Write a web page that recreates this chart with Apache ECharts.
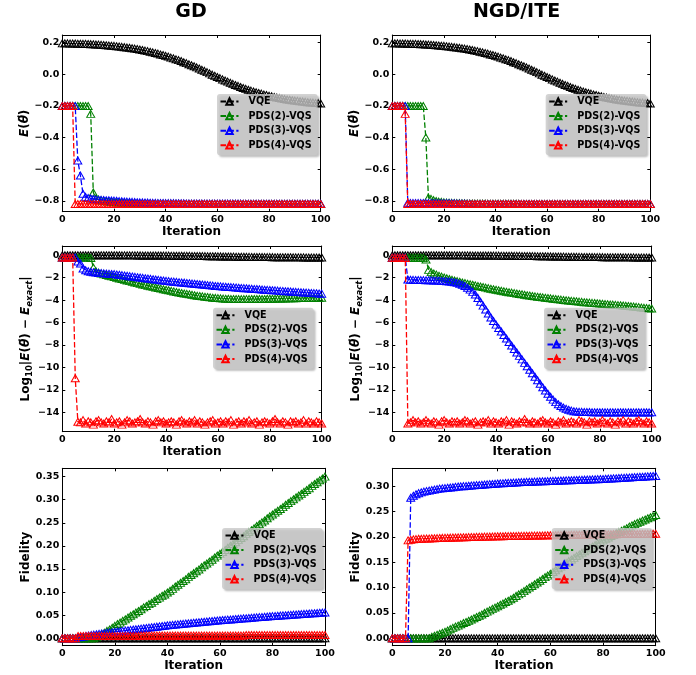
<!DOCTYPE html>
<html>
<head>
<meta charset="utf-8">
<script src="https://cdn.jsdelivr.net/npm/echarts@6/dist/echarts.min.js"></script>
<style>
html,body{margin:0;padding:0;background:#fff;}
#chart{width:696px;height:675px;}
</style>
</head>
<body>
<div id="chart"></div>
<script>
// ---- series names, colours, tick labels ----
const seriesNames = ['VQE', 'PDS(2)-VQS', 'PDS(3)-VQS', 'PDS(4)-VQS'];
const seriesColors = ['#000000', '#008000', '#0000ff', '#ff0000'];
const panelTitles = ['GD', 'NGD/ITE'];
const iterationTicks = [0, 20, 40, 60, 80, 100];
const energyTicks = [-0.8, -0.6, -0.4, -0.2, 0.0, 0.2];
const logErrorTicks = [-14, -12, -10, -8, -6, -4, -2, 0];
const fidelityTicksGD = [0, 0.05, 0.10, 0.15, 0.20, 0.25, 0.30, 0.35];
const fidelityTicksNGD = [0, 0.05, 0.10, 0.15, 0.20, 0.25, 0.30];

// ---- energy E(theta) per iteration (0..100) ----
const vqeEnergy = [
  0.196,0.196,0.196,0.195,0.195,0.195,0.194,0.194,0.193,0.193,
  0.192,0.191,0.190,0.189,0.188,0.187,0.186,0.184,0.183,0.181,
  0.180,0.178,0.176,0.174,0.172,0.170,0.168,0.165,0.163,0.160,
  0.157,0.154,0.150,0.147,0.143,0.139,0.135,0.131,0.126,0.122,
  0.117,0.112,0.106,0.101,0.095,0.090,0.084,0.077,0.071,0.064,
  0.058,0.051,0.044,0.037,0.029,0.022,0.014,0.006,-0.002,-0.009,
  -0.017,-0.024,-0.032,-0.039,-0.046,-0.053,-0.060,-0.067,-0.073,-0.080,
  -0.086,-0.092,-0.097,-0.103,-0.108,-0.113,-0.118,-0.122,-0.127,-0.131,
  -0.135,-0.139,-0.143,-0.146,-0.150,-0.153,-0.156,-0.159,-0.161,-0.164,
  -0.166,-0.168,-0.170,-0.172,-0.174,-0.176,-0.178,-0.179,-0.181,-0.182,
  -0.184];
const gdEnergy2 = [
  -0.2,-0.2,-0.2,-0.2,-0.2,-0.2,-0.2,-0.2,-0.2,-0.2,
  -0.2,-0.25,-0.747,-0.785,-0.792,-0.797,-0.8,-0.803,-0.805,-0.807,
  -0.809,-0.81,-0.811,-0.812,-0.813,-0.814,-0.815,-0.816,-0.816,-0.817,
  -0.817,-0.818,-0.818,-0.818,-0.818,-0.819,-0.819,-0.819,-0.819,-0.819,
  -0.819,-0.819,-0.819,-0.819,-0.819,-0.819,-0.82,-0.82,-0.82,-0.82,
  -0.82,-0.82,-0.82,-0.82,-0.82,-0.82,-0.82,-0.82,-0.82,-0.82,
  -0.82,-0.82,-0.82,-0.82,-0.82,-0.82,-0.82,-0.82,-0.82,-0.82,
  -0.82,-0.82,-0.82,-0.82,-0.82,-0.82,-0.82,-0.82,-0.82,-0.82,
  -0.82,-0.82,-0.82,-0.82,-0.82,-0.82,-0.82,-0.82,-0.82,-0.82,
  -0.82,-0.82,-0.82,-0.82,-0.82,-0.82,-0.82,-0.82,-0.82,-0.82,
  -0.82];
const gdEnergy3 = [
  -0.2,-0.2,-0.2,-0.2,-0.2,-0.2,-0.545,-0.64,-0.755,-0.775,
  -0.782,-0.786,-0.789,-0.791,-0.793,-0.794,-0.795,-0.797,-0.797,-0.798,
  -0.799,-0.8,-0.802,-0.803,-0.804,-0.805,-0.806,-0.807,-0.808,-0.809,
  -0.81,-0.81,-0.811,-0.811,-0.812,-0.813,-0.813,-0.814,-0.814,-0.814,
  -0.815,-0.815,-0.815,-0.815,-0.816,-0.816,-0.816,-0.816,-0.817,-0.817,
  -0.817,-0.817,-0.817,-0.817,-0.817,-0.818,-0.818,-0.818,-0.818,-0.818,
  -0.818,-0.818,-0.818,-0.818,-0.818,-0.818,-0.818,-0.818,-0.818,-0.818,
  -0.819,-0.819,-0.819,-0.819,-0.819,-0.819,-0.819,-0.819,-0.819,-0.819,
  -0.819,-0.819,-0.819,-0.819,-0.819,-0.819,-0.819,-0.819,-0.819,-0.819,
  -0.819,-0.819,-0.819,-0.819,-0.819,-0.819,-0.819,-0.819,-0.819,-0.819,
  -0.819];
const gdEnergy4 = [
  -0.2,-0.2,-0.2,-0.2,-0.2,-0.82,-0.82,-0.82,-0.82,-0.82,
  -0.82,-0.82,-0.82,-0.82,-0.82,-0.82,-0.82,-0.82,-0.82,-0.82,
  -0.82,-0.82,-0.82,-0.82,-0.82,-0.82,-0.82,-0.82,-0.82,-0.82,
  -0.82,-0.82,-0.82,-0.82,-0.82,-0.82,-0.82,-0.82,-0.82,-0.82,
  -0.82,-0.82,-0.82,-0.82,-0.82,-0.82,-0.82,-0.82,-0.82,-0.82,
  -0.82,-0.82,-0.82,-0.82,-0.82,-0.82,-0.82,-0.82,-0.82,-0.82,
  -0.82,-0.82,-0.82,-0.82,-0.82,-0.82,-0.82,-0.82,-0.82,-0.82,
  -0.82,-0.82,-0.82,-0.82,-0.82,-0.82,-0.82,-0.82,-0.82,-0.82,
  -0.82,-0.82,-0.82,-0.82,-0.82,-0.82,-0.82,-0.82,-0.82,-0.82,
  -0.82,-0.82,-0.82,-0.82,-0.82,-0.82,-0.82,-0.82,-0.82,-0.82,
  -0.82];
const ngdEnergy2 = [
  -0.2,-0.2,-0.2,-0.2,-0.2,-0.2,-0.2,-0.2,-0.2,-0.2,
  -0.2,-0.2,-0.2,-0.4,-0.78,-0.788,-0.796,-0.801,-0.805,-0.807,
  -0.81,-0.811,-0.812,-0.813,-0.814,-0.815,-0.815,-0.816,-0.816,-0.817,
  -0.817,-0.817,-0.818,-0.818,-0.818,-0.818,-0.818,-0.819,-0.819,-0.819,
  -0.819,-0.819,-0.819,-0.819,-0.819,-0.819,-0.819,-0.819,-0.819,-0.819,
  -0.82,-0.82,-0.82,-0.82,-0.82,-0.82,-0.82,-0.82,-0.82,-0.82,
  -0.82,-0.82,-0.82,-0.82,-0.82,-0.82,-0.82,-0.82,-0.82,-0.82,
  -0.82,-0.82,-0.82,-0.82,-0.82,-0.82,-0.82,-0.82,-0.82,-0.82,
  -0.82,-0.82,-0.82,-0.82,-0.82,-0.82,-0.82,-0.82,-0.82,-0.82,
  -0.82,-0.82,-0.82,-0.82,-0.82,-0.82,-0.82,-0.82,-0.82,-0.82,
  -0.82];
const ngdEnergy3 = [
  -0.2,-0.2,-0.2,-0.2,-0.2,-0.2,-0.813,-0.814,-0.814,-0.814,
  -0.814,-0.814,-0.814,-0.814,-0.814,-0.814,-0.814,-0.814,-0.815,-0.815,
  -0.815,-0.815,-0.815,-0.816,-0.816,-0.817,-0.817,-0.818,-0.818,-0.819,
  -0.819,-0.82,-0.82,-0.82,-0.82,-0.82,-0.82,-0.82,-0.82,-0.82,
  -0.82,-0.82,-0.82,-0.82,-0.82,-0.82,-0.82,-0.82,-0.82,-0.82,
  -0.82,-0.82,-0.82,-0.82,-0.82,-0.82,-0.82,-0.82,-0.82,-0.82,
  -0.82,-0.82,-0.82,-0.82,-0.82,-0.82,-0.82,-0.82,-0.82,-0.82,
  -0.82,-0.82,-0.82,-0.82,-0.82,-0.82,-0.82,-0.82,-0.82,-0.82,
  -0.82,-0.82,-0.82,-0.82,-0.82,-0.82,-0.82,-0.82,-0.82,-0.82,
  -0.82,-0.82,-0.82,-0.82,-0.82,-0.82,-0.82,-0.82,-0.82,-0.82,
  -0.82];
const ngdEnergy4 = [
  -0.2,-0.2,-0.2,-0.2,-0.2,-0.25,-0.82,-0.82,-0.82,-0.82,
  -0.82,-0.82,-0.82,-0.82,-0.82,-0.82,-0.82,-0.82,-0.82,-0.82,
  -0.82,-0.82,-0.82,-0.82,-0.82,-0.82,-0.82,-0.82,-0.82,-0.82,
  -0.82,-0.82,-0.82,-0.82,-0.82,-0.82,-0.82,-0.82,-0.82,-0.82,
  -0.82,-0.82,-0.82,-0.82,-0.82,-0.82,-0.82,-0.82,-0.82,-0.82,
  -0.82,-0.82,-0.82,-0.82,-0.82,-0.82,-0.82,-0.82,-0.82,-0.82,
  -0.82,-0.82,-0.82,-0.82,-0.82,-0.82,-0.82,-0.82,-0.82,-0.82,
  -0.82,-0.82,-0.82,-0.82,-0.82,-0.82,-0.82,-0.82,-0.82,-0.82,
  -0.82,-0.82,-0.82,-0.82,-0.82,-0.82,-0.82,-0.82,-0.82,-0.82,
  -0.82,-0.82,-0.82,-0.82,-0.82,-0.82,-0.82,-0.82,-0.82,-0.82,
  -0.82];

// ---- log10 |E(theta) - E_exact| per iteration ----
const vqeLogError = [
  0.007,0.007,0.007,0.006,0.006,0.006,0.006,0.006,0.005,0.005,
  0.005,0.004,0.004,0.003,0.003,0.003,0.002,0.002,0.001,0.000,
  0.000,-0.001,-0.002,-0.003,-0.003,-0.004,-0.005,-0.006,-0.007,-0.009,
  -0.010,-0.012,-0.013,-0.015,-0.017,-0.018,-0.020,-0.022,-0.024,-0.026,
  -0.028,-0.031,-0.033,-0.036,-0.039,-0.041,-0.044,-0.047,-0.050,-0.053,
  -0.057,-0.060,-0.064,-0.067,-0.071,-0.075,-0.079,-0.083,-0.087,-0.091,
  -0.095,-0.099,-0.103,-0.107,-0.111,-0.115,-0.119,-0.123,-0.127,-0.130,
  -0.134,-0.137,-0.141,-0.144,-0.147,-0.150,-0.153,-0.156,-0.159,-0.161,
  -0.164,-0.166,-0.169,-0.171,-0.173,-0.175,-0.177,-0.179,-0.180,-0.182,
  -0.184,-0.185,-0.187,-0.188,-0.189,-0.190,-0.192,-0.193,-0.194,-0.195,
  -0.197];
const gdLogError2 = [
  -0.2,-0.2,-0.2,-0.2,-0.2,-0.2,-0.2,-0.2,-0.2,-0.2,
  -0.2,-0.24,-1.1,-1.45,-1.55,-1.63,-1.7,-1.76,-1.82,-1.88,
  -1.94,-2.0,-2.06,-2.12,-2.18,-2.24,-2.3,-2.36,-2.42,-2.48,
  -2.54,-2.6,-2.66,-2.71,-2.76,-2.81,-2.87,-2.92,-2.97,-3.02,
  -3.07,-3.12,-3.17,-3.22,-3.27,-3.32,-3.36,-3.4,-3.44,-3.48,
  -3.52,-3.56,-3.6,-3.63,-3.66,-3.69,-3.72,-3.75,-3.78,-3.8,
  -3.82,-3.84,-3.86,-3.87,-3.88,-3.89,-3.9,-3.9,-3.91,-3.91,
  -3.91,-3.91,-3.91,-3.9,-3.9,-3.9,-3.9,-3.89,-3.89,-3.88,
  -3.88,-3.87,-3.87,-3.86,-3.86,-3.85,-3.85,-3.84,-3.84,-3.83,
  -3.83,-3.82,-3.82,-3.81,-3.81,-3.8,-3.8,-3.79,-3.79,-3.78,
  -3.78];
const gdLogError3 = [
  -0.2,-0.2,-0.2,-0.2,-0.2,-0.2,-0.55,-0.73,-1.17,-1.34,
  -1.42,-1.47,-1.51,-1.54,-1.57,-1.59,-1.61,-1.63,-1.64,-1.66,
  -1.68,-1.71,-1.74,-1.77,-1.8,-1.83,-1.86,-1.89,-1.92,-1.95,
  -1.98,-2.01,-2.04,-2.07,-2.1,-2.13,-2.16,-2.19,-2.22,-2.25,
  -2.28,-2.3,-2.33,-2.35,-2.37,-2.4,-2.42,-2.44,-2.47,-2.49,
  -2.51,-2.54,-2.56,-2.58,-2.61,-2.63,-2.66,-2.68,-2.7,-2.73,
  -2.75,-2.77,-2.79,-2.8,-2.82,-2.84,-2.86,-2.87,-2.89,-2.91,
  -2.93,-2.94,-2.96,-2.98,-3.0,-3.01,-3.03,-3.05,-3.07,-3.08,
  -3.1,-3.12,-3.13,-3.15,-3.17,-3.18,-3.2,-3.21,-3.23,-3.25,
  -3.26,-3.28,-3.29,-3.31,-3.33,-3.34,-3.36,-3.37,-3.39,-3.41,
  -3.42];
const gdLogError4 = [
  -0.2,-0.2,-0.2,-0.2,-0.2,-10.97,-14.84,-14.9,-14.7,-15.0,
  -14.8,-14.9,-15.1,-14.8,-14.7,-14.9,-15.0,-14.8,-14.9,-14.6,
  -15.0,-14.9,-14.8,-15.1,-14.9,-14.7,-14.8,-15.0,-14.9,-14.8,
  -14.6,-14.9,-15.0,-14.8,-14.9,-15.1,-14.8,-14.7,-14.9,-14.8,
  -15.0,-14.9,-14.8,-14.9,-15.1,-14.8,-14.7,-14.9,-15.0,-14.8,
  -14.9,-14.7,-15.0,-14.8,-14.9,-15.1,-14.9,-14.8,-14.7,-15.0,
  -14.9,-14.8,-15.0,-14.8,-14.9,-14.7,-15.1,-14.9,-14.8,-15.0,
  -14.8,-14.9,-14.7,-15.0,-14.9,-14.8,-15.1,-14.9,-14.8,-14.9,
  -15.0,-14.8,-14.6,-14.9,-15.0,-14.8,-14.9,-15.1,-14.8,-14.9,
  -14.8,-15.0,-14.9,-14.7,-15.0,-14.8,-14.9,-15.0,-14.8,-14.9,
  -15.0];
const ngdLogError2 = [
  -0.21,-0.21,-0.21,-0.21,-0.21,-0.21,-0.21,-0.21,-0.21,-0.21,
  -0.21,-0.21,-0.21,-0.37,-1.3,-1.5,-1.62,-1.72,-1.82,-1.9,
  -1.98,-2.05,-2.12,-2.18,-2.24,-2.3,-2.36,-2.42,-2.47,-2.53,
  -2.58,-2.63,-2.68,-2.73,-2.78,-2.83,-2.88,-2.93,-2.98,-3.02,
  -3.07,-3.11,-3.16,-3.2,-3.25,-3.29,-3.33,-3.37,-3.41,-3.45,
  -3.48,-3.52,-3.56,-3.59,-3.63,-3.66,-3.69,-3.72,-3.75,-3.78,
  -3.81,-3.84,-3.87,-3.9,-3.93,-3.95,-3.98,-4.01,-4.03,-4.06,
  -4.08,-4.1,-4.13,-4.15,-4.18,-4.2,-4.22,-4.24,-4.26,-4.28,
  -4.3,-4.32,-4.34,-4.36,-4.38,-4.4,-4.42,-4.44,-4.46,-4.48,
  -4.5,-4.52,-4.55,-4.57,-4.6,-4.62,-4.65,-4.67,-4.7,-4.72,
  -4.75];
const ngdLogError3 = [
  -0.21,-0.21,-0.21,-0.21,-0.21,-0.21,-2.15,-2.18,-2.19,-2.2,
  -2.2,-2.21,-2.21,-2.22,-2.22,-2.23,-2.24,-2.25,-2.26,-2.28,
  -2.3,-2.32,-2.34,-2.37,-2.41,-2.46,-2.53,-2.62,-2.74,-2.89,
  -3.06,-3.26,-3.49,-3.8,-4.14,-4.49,-4.84,-5.19,-5.54,-5.86,
  -6.18,-6.49,-6.8,-7.11,-7.42,-7.73,-8.04,-8.35,-8.66,-8.97,
  -9.28,-9.59,-9.9,-10.21,-10.52,-10.83,-11.14,-11.45,-11.76,-12.06,
  -12.35,-12.62,-12.87,-13.09,-13.28,-13.44,-13.58,-13.69,-13.78,-13.85,
  -13.9,-13.93,-13.95,-13.96,-13.97,-13.98,-13.98,-13.99,-13.99,-14.0,
  -14.0,-13.99,-14.0,-14.01,-14.0,-14.0,-14.01,-14.0,-13.99,-14.0,
  -14.01,-14.0,-14.0,-14.01,-14.0,-14.0,-14.01,-14.0,-14.0,-14.01,
  -14.0];
const ngdLogError4 = [
  -0.21,-0.21,-0.21,-0.21,-0.21,-0.24,-15.0,-14.9,-14.7,-14.9,
  -14.8,-15.0,-14.9,-14.7,-14.9,-15.0,-14.8,-14.9,-15.1,-14.8,
  -14.7,-14.9,-15.0,-14.8,-14.9,-14.8,-15.0,-14.9,-14.7,-14.8,
  -15.0,-14.9,-14.8,-15.1,-14.9,-14.8,-14.9,-14.7,-15.0,-14.8,
  -14.9,-15.0,-14.8,-14.9,-14.7,-15.1,-14.8,-14.9,-15.0,-14.8,
  -14.9,-14.6,-14.9,-15.0,-14.8,-14.9,-15.0,-14.8,-14.7,-14.9,
  -15.0,-14.8,-14.9,-15.1,-14.8,-14.9,-14.7,-15.0,-14.9,-14.8,
  -14.9,-15.0,-14.7,-14.8,-14.9,-15.1,-14.8,-14.9,-14.8,-15.0,
  -14.9,-14.7,-14.9,-15.0,-14.8,-14.9,-15.1,-14.8,-14.9,-14.7,
  -15.0,-14.8,-14.9,-15.0,-14.8,-14.7,-14.9,-15.0,-14.8,-14.9,
  -15.0];

// ---- fidelity with the exact ground state per iteration ----
const vqeFidelity = [
  0,0,0,0,0,0,0,0,0,0,
  0,0,0,0,0,0,0,0,0,0,
  0,0,0,0,0,0,0,0,0,0,
  0,0,0,0,0,0,0,0,0,0,
  0,0,0,0,0,0,0,0,0,0,
  0,0,0,0,0,0,0,0,0,0,
  0,0,0,0,0,0,0,0,0,0,
  0,0,0,0,0,0,0,0,0,0,
  0,0,0,0,0,0,0,0,0,0,
  0,0,0,0,0,0,0,0,0,0,
  0];
const gdFidelity2 = [
  0,0,0,0,0,0,0,0,0,0,
  0,0,0,0.002,0.005,0.009,0.012,0.016,0.019,0.023,
  0.027,0.031,0.034,0.038,0.041,0.045,0.049,0.052,0.056,0.059,
  0.063,0.067,0.07,0.074,0.077,0.081,0.085,0.088,0.092,0.095,
  0.099,0.103,0.107,0.112,0.116,0.12,0.124,0.128,0.133,0.137,
  0.141,0.145,0.149,0.154,0.158,0.162,0.166,0.17,0.175,0.179,
  0.183,0.187,0.191,0.196,0.2,0.204,0.208,0.213,0.217,0.221,
  0.226,0.23,0.234,0.238,0.243,0.247,0.251,0.255,0.26,0.264,
  0.268,0.272,0.276,0.28,0.284,0.289,0.293,0.297,0.301,0.305,
  0.309,0.313,0.317,0.321,0.325,0.33,0.334,0.338,0.342,0.346,
  0.35];
const gdFidelity3 = [
  0,0,0,0,0,0,0.002,0.003,0.004,0.005,
  0.006,0.007,0.008,0.0088,0.0096,0.0104,0.011,0.012,0.0125,0.013,
  0.014,0.0147,0.0154,0.0161,0.0168,0.0175,0.0182,0.0189,0.0196,0.0203,
  0.021,0.0217,0.0224,0.0231,0.0238,0.0245,0.0252,0.0259,0.0266,0.0273,
  0.028,0.0286,0.0291,0.0297,0.0302,0.0308,0.0313,0.0319,0.0324,0.033,
  0.0335,0.0341,0.0346,0.0352,0.0357,0.0363,0.0368,0.0374,0.0379,0.0385,
  0.039,0.0395,0.0399,0.0404,0.0408,0.0413,0.0417,0.0422,0.0426,0.0431,
  0.0435,0.044,0.0444,0.0449,0.0453,0.0458,0.0462,0.0467,0.0471,0.0476,
  0.048,0.0484,0.0488,0.0492,0.0496,0.05,0.0504,0.0508,0.0512,0.0516,
  0.052,0.0524,0.0528,0.0532,0.0536,0.054,0.0544,0.0548,0.0552,0.0556,
  0.056];
const gdFidelity4 = [
  0,0,0,0,0,0,0.005,0.005,0.005,0.005,
  0.005,0.005,0.005,0.005,0.005,0.005,0.005,0.005,0.005,0.005,
  0.005,0.005,0.005,0.005,0.005,0.005,0.005,0.005,0.005,0.005,
  0.006,0.006,0.006,0.006,0.006,0.006,0.006,0.006,0.006,0.006,
  0.006,0.006,0.006,0.006,0.006,0.006,0.006,0.006,0.006,0.006,
  0.006,0.006,0.006,0.006,0.006,0.006,0.006,0.006,0.006,0.006,
  0.006,0.006,0.006,0.006,0.006,0.006,0.006,0.006,0.006,0.006,
  0.007,0.007,0.007,0.007,0.007,0.007,0.007,0.007,0.007,0.007,
  0.007,0.007,0.007,0.007,0.007,0.007,0.007,0.007,0.007,0.007,
  0.007,0.007,0.007,0.007,0.007,0.007,0.007,0.007,0.007,0.007,
  0.007];
const ngdFidelity2 = [
  0,0,0,0,0,0,0,0,0,0,
  0,0,0,0,0,0.003,0.005,0.007,0.009,0.011,
  0.013,0.0155,0.018,0.0205,0.023,0.025,0.0275,0.03,0.032,0.0345,
  0.037,0.0395,0.042,0.0445,0.047,0.05,0.0525,0.055,0.058,0.0605,
  0.063,0.066,0.0685,0.0715,0.074,0.077,0.08,0.0835,0.0865,0.0895,
  0.093,0.0965,0.1,0.103,0.1065,0.11,0.1135,0.117,0.1205,0.1235,
  0.127,0.1305,0.134,0.138,0.1415,0.145,0.1485,0.152,0.155,0.1585,
  0.162,0.1652,0.1684,0.1716,0.1748,0.178,0.181,0.184,0.187,0.19,
  0.193,0.196,0.1985,0.2015,0.204,0.207,0.2095,0.212,0.2145,0.217,
  0.22,0.2225,0.225,0.2275,0.2295,0.232,0.2342,0.2364,0.2386,0.2408,
  0.243];
const ngdFidelity3 = [
  0,0,0,0,0,0,0,0.277,0.281,0.284,
  0.286,0.2875,0.289,0.29,0.291,0.292,0.293,0.294,0.295,0.2955,
  0.296,0.2966,0.2972,0.2978,0.2984,0.299,0.2994,0.2998,0.3002,0.3006,
  0.301,0.3014,0.3018,0.3022,0.3026,0.303,0.3034,0.3038,0.3042,0.3046,
  0.305,0.3053,0.3056,0.3059,0.3062,0.3065,0.3068,0.3071,0.3074,0.3077,
  0.308,0.3082,0.3084,0.3086,0.3088,0.309,0.3092,0.3094,0.3096,0.3098,
  0.31,0.3102,0.3104,0.3106,0.3108,0.311,0.3112,0.3114,0.3116,0.3118,
  0.312,0.3122,0.3124,0.3126,0.3128,0.313,0.3132,0.3134,0.3136,0.3138,
  0.314,0.3143,0.3146,0.3149,0.3152,0.3155,0.3158,0.3161,0.3164,0.3167,
  0.317,0.3173,0.3176,0.3179,0.3182,0.3185,0.3188,0.3191,0.3194,0.3197,
  0.32];
const ngdFidelity4 = [
  0,0,0,0,0,0,0.193,0.194,0.195,0.1955,
  0.196,0.1962,0.1964,0.1966,0.1968,0.197,0.1972,0.1974,0.1976,0.1978,
  0.198,0.1982,0.1983,0.1985,0.1986,0.1988,0.1989,0.1991,0.1992,0.1994,
  0.1995,0.1997,0.1998,0.2,0.2001,0.2003,0.2004,0.2006,0.2007,0.2009,
  0.201,0.2011,0.2012,0.2013,0.2014,0.2015,0.2016,0.2017,0.2018,0.2019,
  0.202,0.2021,0.2022,0.2023,0.2024,0.2025,0.2026,0.2027,0.2028,0.2029,
  0.203,0.2031,0.2032,0.2033,0.2034,0.2035,0.2036,0.2037,0.2038,0.2039,
  0.204,0.2041,0.2042,0.2043,0.2044,0.2045,0.2046,0.2047,0.2048,0.2049,
  0.205,0.205,0.2051,0.2051,0.2052,0.2052,0.2053,0.2053,0.2054,0.2054,
  0.2055,0.2055,0.2056,0.2056,0.2057,0.2057,0.2058,0.2058,0.2059,0.2059,
  0.206];

// ---- layout and styling ----
const FONT = 'DejaVu Sans';
const MINUS = '\u2212';
const fmt = (digits) => (v) => {
  const s = Math.abs(v).toFixed(digits);
  return (v < -1e-9 ? MINUS : '') + s;
};

const nameRich = {
  n: { fontFamily: FONT, fontWeight: 'bold', fontSize: 12, lineHeight: 16, color: '#000' },
  i: { fontFamily: FONT, fontWeight: 'bold', fontStyle: 'italic', fontSize: 12, lineHeight: 16, color: '#000' },
  s: { fontFamily: FONT, fontWeight: 'bold', fontSize: 8.5, lineHeight: 9, verticalAlign: 'bottom', color: '#000' },
  si: { fontFamily: FONT, fontWeight: 'bold', fontStyle: 'italic', fontSize: 8.5, lineHeight: 9, verticalAlign: 'bottom', color: '#000' }
};
const energyName = '{i|E}{n|(}{i|\u03B8\u20D7}{n|)}';
const logName = '{n|Log}{s|10}{n||}{i|E}{n|(}{i|\u03B8\u20D7}{n|) \u2212 }{i|E}{si|exact}{n||}';

const panels = [
  { grid: { left: 62.3, top: 35, width: 258.4, height: 176.7 }, yMin: -0.869, yMax: 0.249, ticks: energyTicks, digits: 1,
    name: energyName, nameGap: 21, series: [vqeEnergy, gdEnergy2, gdEnergy3, gdEnergy4], legend: { left: 217, top: 94 } },
  { grid: { left: 392.3, top: 35, width: 258, height: 176.7 }, yMin: -0.869, yMax: 0.249, ticks: energyTicks, digits: 1,
    name: energyName, nameGap: 20, series: [vqeEnergy, ngdEnergy2, ngdEnergy3, ngdEnergy4], legend: { left: 545.7, top: 94 } },
  { grid: { left: 62.3, top: 246, width: 259.4, height: 185.7 }, yMin: -15.73, yMax: 0.83, ticks: logErrorTicks, digits: 0,
    name: logName, nameGap: 21, series: [vqeLogError, gdLogError2, gdLogError3, gdLogError4], legend: { left: 213, top: 307.7 } },
  { grid: { left: 392.3, top: 246, width: 259.4, height: 185.7 }, yMin: -15.73, yMax: 0.83, ticks: logErrorTicks, digits: 0,
    name: logName, nameGap: 21, series: [vqeLogError, ngdLogError2, ngdLogError3, ngdLogError4], legend: { left: 544, top: 307.7 } },
  { grid: { left: 62.3, top: 468.3, width: 262.7, height: 177.4 }, yMin: -0.016, yMax: 0.368, ticks: fidelityTicksGD, digits: 2,
    name: 'Fidelity', nameGap: 25, series: [vqeFidelity, gdFidelity2, gdFidelity3, gdFidelity4], legend: { left: 222, top: 528 } },
  { grid: { left: 392.3, top: 468.3, width: 263.4, height: 177.4 }, yMin: -0.0146, yMax: 0.335, ticks: fidelityTicksNGD, digits: 2,
    name: 'Fidelity', nameGap: 25, series: [vqeFidelity, ngdFidelity2, ngdFidelity3, ngdFidelity4], legend: { left: 551.7, top: 528 } }
];

const axisLineStyle = { show: true, onZero: false, lineStyle: { color: '#000', width: 1 } };
const tickStyle = { show: true, inside: true, length: 3, lineStyle: { color: '#000', width: 1 } };
const labelStyle = { color: '#000', fontFamily: FONT, fontWeight: 'bold', fontSize: 9.5, margin: 3 };

const option = {
  animation: false,
  backgroundColor: '#fff',
  grid: [], xAxis: [], yAxis: [], series: [], legend: [],
  graphic: [
    { type: 'text', x: 191, y: 11.7, style: { text: panelTitles[0], fill: '#000', font: 'bold 19px "DejaVu Sans"', align: 'center', verticalAlign: 'middle' } },
    { type: 'text', x: 516.5, y: 11.7, style: { text: panelTitles[1], fill: '#000', font: 'bold 19px "DejaVu Sans"', align: 'center', verticalAlign: 'middle' } }
  ]
};

panels.forEach((p, gi) => {
  option.grid.push(Object.assign({ show: false, containLabel: false, outerBoundsMode: 'none' }, p.grid));
  // bottom axis with labels, top axis mirrors the ticks
  option.xAxis.push({
    type: 'value', gridIndex: gi, position: 'bottom', min: 0, max: 100, interval: 20,
    name: 'Iteration', nameLocation: 'middle', nameGap: 12,
    nameTextStyle: { color: '#000', fontFamily: FONT, fontWeight: 'bold', fontSize: 12 },
    axisLine: axisLineStyle, axisTick: tickStyle,
    axisLabel: Object.assign({ formatter: (v) => String(v) }, labelStyle),
    splitLine: { show: false }
  });
  option.xAxis.push({
    type: 'value', gridIndex: gi, position: 'top', min: 0, max: 100, interval: 20,
    axisLine: axisLineStyle, axisTick: tickStyle, axisLabel: { show: false }, splitLine: { show: false }
  });
  option.yAxis.push({
    type: 'value', gridIndex: gi, position: 'left', min: p.yMin, max: p.yMax,
    name: p.name, nameLocation: 'middle', nameRotate: 90, nameGap: p.nameGap,
    nameTextStyle: { color: '#000', fontFamily: FONT, fontWeight: 'bold', fontSize: 12, rich: nameRich },
    axisLine: axisLineStyle,
    axisTick: Object.assign({ customValues: p.ticks }, tickStyle),
    axisLabel: Object.assign({ customValues: p.ticks, formatter: fmt(p.digits) }, labelStyle),
    splitLine: { show: false }
  });
  option.yAxis.push({
    type: 'value', gridIndex: gi, position: 'right', min: p.yMin, max: p.yMax,
    axisLine: axisLineStyle,
    axisTick: Object.assign({ customValues: p.ticks }, tickStyle),
    axisLabel: { show: false }, splitLine: { show: false }
  });
  p.series.forEach((values, k) => {
    option.series.push({
      type: 'line', name: seriesNames[k], xAxisIndex: 2 * gi, yAxisIndex: 2 * gi,
      data: values.map((v, i) => [i, v]),
      symbol: 'triangle', symbolSize: [8, 7], showSymbol: true,
      itemStyle: { color: 'rgba(255,255,255,0)', borderColor: seriesColors[k], borderWidth: 1 },
      lineStyle: { color: seriesColors[k], width: 1.3, type: [5.5, 2.4] },
      emphasis: { disabled: true }, silent: true, z: 2 + k
    });
  });
  option.legend.push({
    orient: 'vertical', left: p.legend.left, top: p.legend.top,
    data: seriesNames, selectedMode: false,
    padding: [2.5, 6, 5, 2.5], itemWidth: 18, itemHeight: 8, itemGap: 4.6,
    backgroundColor: 'rgba(200,200,200,0.8)', borderRadius: 3,
    shadowColor: 'rgba(0,0,0,0.3)', shadowBlur: 2, shadowOffsetX: 2, shadowOffsetY: 2,
    textStyle: { color: '#000', fontFamily: FONT, fontWeight: 'bold', fontSize: 9.6, padding: [0, 0, 0, 5] },
    z: 10
  });
});

const chart = echarts.init(document.getElementById('chart'), null, { renderer: 'canvas' });
chart.setOption(option);
</script>
</body>
</html>
